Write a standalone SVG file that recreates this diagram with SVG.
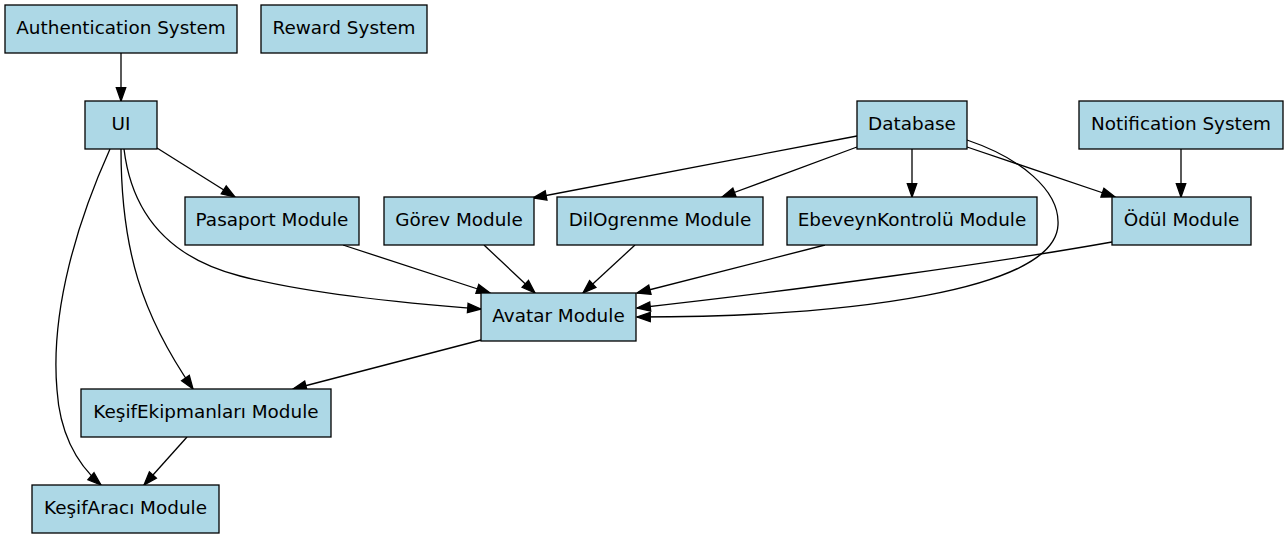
<svg xmlns="http://www.w3.org/2000/svg" width="1288" height="539" viewBox="0 0 1288 539">
<style>
.n rect{fill:#add8e6;stroke:#000;stroke-width:1.3}
.n text{font-family:"DejaVu Sans","Liberation Sans",sans-serif;font-size:18.4px;text-anchor:middle;fill:#000}
.e path{fill:none;stroke:#000;stroke-width:1.3;marker-end:url(#arr)}
</style>
<defs>
<marker id="arr" markerUnits="userSpaceOnUse" markerWidth="18" markerHeight="14" viewBox="-2 -7 18 14" refX="13.3" refY="0" orient="auto" overflow="visible">
<path d="M0,-4.7 L13.3,0 L0,4.7 Z" fill="#000" stroke="#000" stroke-width="1.3"/>
</marker>
</defs>
<rect width="1288" height="539" fill="#fff"/>
<g id="edges" class="e">
<path d="M121,53 L121,101"/>
<path d="M157,148 L235,197"/>
<path d="M124,149 C132,215 170,258 240,276 C310,294 400,303 481,309"/>
<path d="M121,149 C121,250 142,315 193,389"/>
<path d="M110,149 C78,220 50,310 57,390 C60,435 78,465 101,485"/>
<path d="M481,340 L293,389"/>
<path d="M187,437 L144,485"/>
<path d="M343,245 L490,293"/>
<path d="M484,245 L535,293"/>
<path d="M635,245 L583,293"/>
<path d="M825,245 L637,293"/>
<path d="M1112,242 C1000,262 800,290 637,308"/>
<path d="M967,140 C1020,158 1060,190 1058,225 C1055,290 850,317 637,317"/>
<path d="M857,136 L533,198"/>
<path d="M857,147 L722,197"/>
<path d="M912,149 L912,197"/>
<path d="M967,147 L1115,197"/>
<path d="M1181,149 L1181,197"/>
</g>
<g id="auth" class="n"><rect x="5" y="5" width="232" height="48"/><text x="121" y="34.3">Authentication System</text></g>
<g id="reward" class="n"><rect x="261" y="5" width="166" height="48"/><text x="344" y="34.3">Reward System</text></g>
<g id="ui" class="n"><rect x="85" y="101" width="72" height="48"/><text x="121" y="130.3">UI</text></g>
<g id="database" class="n"><rect x="857" y="101" width="110" height="48"/><text x="912" y="130.3">Database</text></g>
<g id="notification" class="n"><rect x="1079" y="101" width="204" height="48"/><text x="1181" y="130.3">Notification System</text></g>
<g id="pasaport" class="n"><rect x="185" y="197" width="174" height="48"/><text x="272" y="226.3">Pasaport Module</text></g>
<g id="gorev" class="n"><rect x="384" y="197" width="150" height="48"/><text x="459" y="226.3">Görev Module</text></g>
<g id="dilogrenme" class="n"><rect x="557" y="197" width="206" height="48"/><text x="660" y="226.3">DilOgrenme Module</text></g>
<g id="ebeveyn" class="n"><rect x="787" y="197" width="250" height="48"/><text x="912" y="226.3">EbeveynKontrolü Module</text></g>
<g id="odul" class="n"><rect x="1112" y="197" width="139" height="48"/><text x="1181.5" y="226.3">Ödül Module</text></g>
<g id="avatar" class="n"><rect x="481" y="293" width="155" height="48"/><text x="558.5" y="322.3">Avatar Module</text></g>
<g id="kesifekipmanlari" class="n"><rect x="81" y="389" width="250" height="48"/><text x="206" y="418.3">KeşifEkipmanları Module</text></g>
<g id="kesifaraci" class="n"><rect x="32" y="485" width="187" height="48"/><text x="125.5" y="514.3">KeşifAracı Module</text></g>
</svg>
